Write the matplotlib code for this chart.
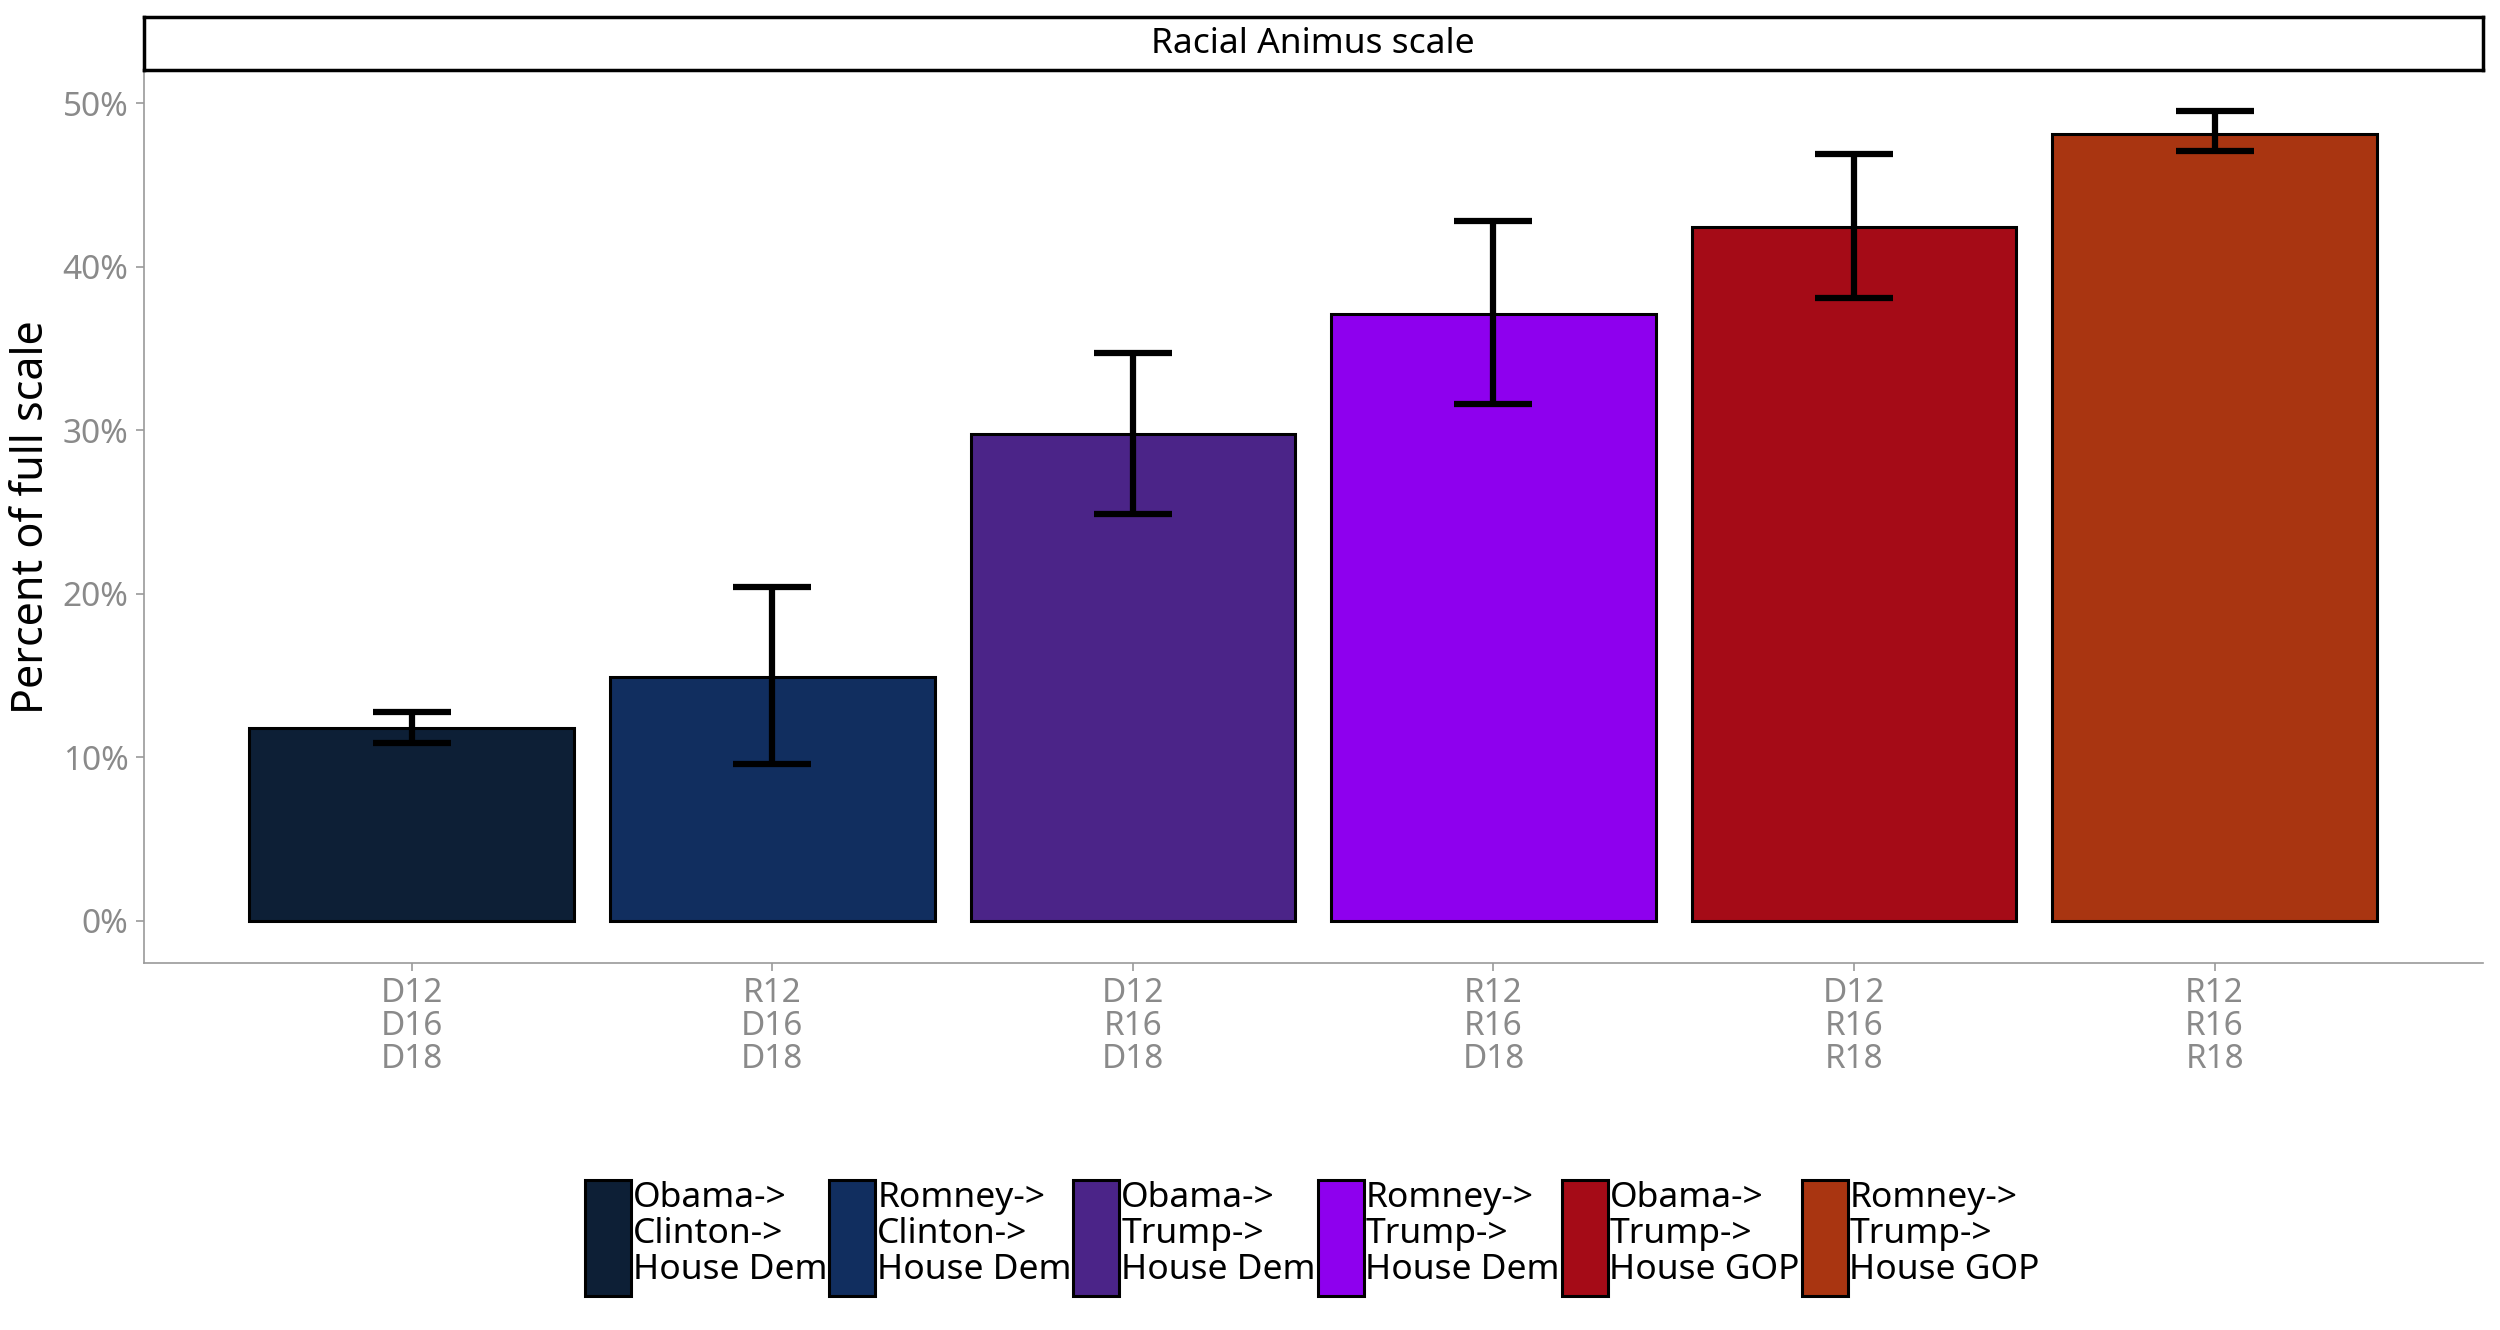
import matplotlib.pyplot as plt
from matplotlib.patches import Patch
from matplotlib.ticker import PercentFormatter

plt.rcParams['font.family'] = ['Noto Sans', 'DejaVu Sans']

# data
groups = ["D12\nD16\nD18", "R12\nD16\nD18", "D12\nR16\nD18",
          "R12\nR16\nD18", "D12\nR16\nR18", "R12\nR16\nR18"]
legend_labels = ["Obama->\nClinton->\nHouse Dem", "Romney->\nClinton->\nHouse Dem",
                 "Obama->\nTrump->\nHouse Dem", "Romney->\nTrump->\nHouse Dem",
                 "Obama->\nTrump->\nHouse GOP", "Romney->\nTrump->\nHouse GOP"]
values = [0.118, 0.149, 0.298, 0.371, 0.424, 0.481]
err_low = [0.109, 0.096, 0.249, 0.316, 0.381, 0.471]
err_high = [0.128, 0.204, 0.347, 0.428, 0.469, 0.495]
colors = ["#0D1F36", "#112E5F", "#4B2488", "#8E00EE", "#A50B17", "#A93511"]

fig = plt.figure(figsize=(25, 13.3), dpi=100)
ax = fig.add_axes([0.0575, 0.276, 0.9355, 0.671])

x = list(range(len(groups)))
ax.bar(x, values, width=0.9, color=colors, edgecolor="black", linewidth=2.2, zorder=2)
yerr = [[v - lo for v, lo in zip(values, err_low)],
        [hi - v for v, hi in zip(values, err_high)]]
ax.errorbar(x, values, yerr=yerr, fmt="none", ecolor="black", elinewidth=4.5,
            capsize=28, capthick=4.5, zorder=3)

ax.set_xlim(-0.743, 5.743)
ax.set_ylim(-0.0257, 0.52)
ax.set_xticks(x)
ax.set_xticklabels(groups, fontsize=24, color="#8a8a8a", linespacing=1.0)
ax.set_yticks([0, 0.1, 0.2, 0.3, 0.4, 0.5])
ax.yaxis.set_major_formatter(PercentFormatter(1.0, decimals=0))
for lab in ax.get_yticklabels():
    lab.set_fontsize(24)
    lab.set_color("#8a8a8a")
ax.tick_params(axis="both", colors="#9a9a9a", length=6, width=1.2)
ax.tick_params(axis="x", pad=4)
ax.tick_params(axis="y", pad=5)
for lab in ax.get_xticklabels() + ax.get_yticklabels():
    lab.set_color("#8a8a8a")
for s in ["top", "right"]:
    ax.spines[s].set_visible(False)
for s in ["left", "bottom"]:
    ax.spines[s].set_color("#9a9a9a")
    ax.spines[s].set_linewidth(1.2)
ax.set_ylabel("Percent of full scale", fontsize=31, labelpad=6)

# facet strip
strip = fig.add_axes([0.0575, 0.947, 0.9355, 0.040])
strip.set_xticks([])
strip.set_yticks([])
for s in strip.spines.values():
    s.set_linewidth(2.5)
    s.set_color("black")
strip.text(0.5, 0.5, "Racial Animus scale", ha="center", va="center", fontsize=25.5,
           transform=strip.transAxes)

handles = [Patch(facecolor=c, edgecolor="black", linewidth=2.2) for c in colors]
fig.legend(handles, legend_labels, loc="center", bbox_to_anchor=(0.525, 0.069), ncol=6,
           frameon=False, fontsize=25.5, handlelength=1.3, handleheight=4.65,
           handletextpad=0.05, columnspacing=0.05, labelspacing=0, borderaxespad=0)
for t in fig.legends[0].get_texts():
    t.set_linespacing(1.07)

fig.savefig("out.png", dpi=100)
